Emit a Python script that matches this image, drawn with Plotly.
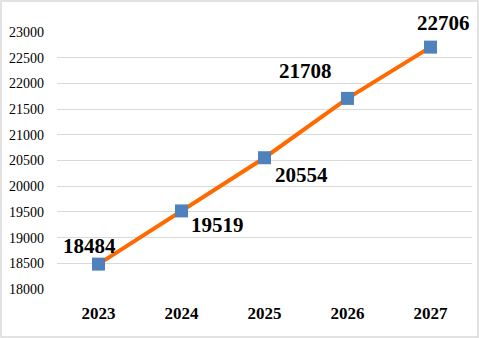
import plotly.graph_objects as go

years = ["2023", "2024", "2025", "2026", "2027"]
values = [18484, 19519, 20554, 21708, 22706]
y_ticks = list(range(18000, 23001, 500))
# label offsets (px) relative to each point
label_dx = [-9, 36, 37, -42, 13]
label_dy = [18, -14, -17, 27, 24]

W, H = 479, 338
ml, mr, mt, mb = 57, 7, 32, 49
pw, ph = W - ml - mr, H - mt - mb
SERIF = "Liberation Serif, Times New Roman, serif"

fig = go.Figure()
fig.add_trace(go.Scatter(
    x=years, y=values, mode="lines+markers",
    line=dict(color="#FF6A00", width=4),
    marker=dict(symbol="square", size=13, color="#4F81BD", line=dict(width=0)),
    showlegend=False, cliponaxis=False,
))
for i, (v, dx, dy) in enumerate(zip(values, label_dx, label_dy)):
    fig.add_annotation(x=i, y=v, text="<b>%d</b>" % v, showarrow=False,
                       xshift=dx, yshift=dy, xanchor="center", yanchor="middle",
                       font=dict(family=SERIF, size=21, color="black"))

fig.add_shape(type="rect", xref="paper", yref="paper",
              x0=(-ml + 1) / pw, x1=(pw + mr - 1) / pw,
              y0=(-mb + 1) / ph, y1=(ph + mt - 1) / ph,
              line=dict(color="#D9D9D9", width=1.5), layer="below")

fig.update_layout(
    width=W, height=H, margin=dict(l=ml, r=mr, t=mt, b=mb),
    paper_bgcolor="white", plot_bgcolor="white",
    font=dict(family=SERIF, color="black"),
    xaxis=dict(type="category", range=[-0.5, 4.5], showgrid=False, zeroline=False,
               showline=False, ticks="", ticklabelstandoff=12,
               tickfont=dict(family=SERIF, size=17, color="black", weight="bold")),
    yaxis=dict(range=[18000, 23000], tickvals=y_ticks, ticktext=[str(t) for t in y_ticks],
               showgrid=True, gridcolor="#D9D9D9", gridwidth=1, zeroline=False, showline=False,
               ticks="", ticklabelstandoff=12,
               tickfont=dict(family=SERIF, size=14, color="black")),
)
fig.write_html("out.html")
